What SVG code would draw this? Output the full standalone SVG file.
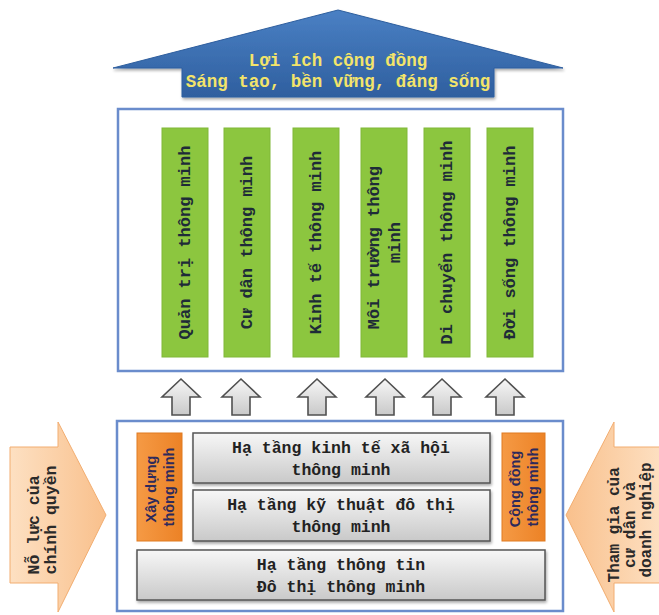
<svg xmlns="http://www.w3.org/2000/svg" width="659" height="615" viewBox="0 0 659 615">
  <defs>
    <linearGradient id="gBlue" x1="0" y1="0" x2="0" y2="1">
      <stop offset="0" stop-color="#4a80c4"/>
      <stop offset="1" stop-color="#2f5f9f"/>
    </linearGradient>
    <linearGradient id="gGray" x1="0" y1="0" x2="0" y2="1">
      <stop offset="0" stop-color="#f7f7f7"/>
      <stop offset="1" stop-color="#c9c9c9"/>
    </linearGradient>
    <linearGradient id="gOrange" x1="0" y1="0" x2="1" y2="0">
      <stop offset="0" stop-color="#f59a45"/>
      <stop offset="1" stop-color="#ec8226"/>
    </linearGradient>
    <linearGradient id="gPeachL" x1="0" y1="0" x2="1" y2="0">
      <stop offset="0" stop-color="#fde0c2"/>
      <stop offset="1" stop-color="#f9c08c"/>
    </linearGradient>
    <linearGradient id="gPeachR" x1="1" y1="0" x2="0" y2="0">
      <stop offset="0" stop-color="#fde0c2"/>
      <stop offset="1" stop-color="#f9c08c"/>
    </linearGradient>
    <filter id="shadow" x="-10%" y="-10%" width="130%" height="130%">
      <feGaussianBlur in="SourceAlpha" stdDeviation="1.5"/>
      <feOffset dx="1" dy="2" result="b"/>
      <feComponentTransfer><feFuncA type="linear" slope="0.35"/></feComponentTransfer>
      <feMerge><feMergeNode/><feMergeNode in="SourceGraphic"/></feMerge>
    </filter>
  </defs>
  <style>
    .mono { font-family: "Liberation Mono", "Courier New", monospace; font-weight: bold; }
    .sans { font-family: "Liberation Sans", Arial, sans-serif; font-weight: bold; }
    .frame { fill: #ffffff; stroke: #6a8ccc; stroke-width: 2.5; }
    .col { fill: #8cc63f; stroke: #80b838; stroke-width: 1; }
    .colText { font-size: 17px; fill: #1e2b38; text-anchor: middle; }
    .grayBox { fill: url(#gGray); stroke: #555555; stroke-width: 1.5; }
    .grayText { font-size: 16.5px; fill: #222222; text-anchor: middle; }
    .orange { fill: url(#gOrange); stroke: #e07a20; stroke-width: 1; }
    .orangeText { font-size: 14.5px; fill: #2e2a5c; text-anchor: middle; }
    .upArrow { fill: url(#gGray); stroke: #505050; stroke-width: 1.6; stroke-linejoin: miter; }
    .sideText { font-size: 16.5px; fill: #2a2a2a; text-anchor: middle; }
    .roofText { font-size: 17.5px; fill: #f3e46a; text-anchor: middle; }
  </style>

  <!-- roof arrow: community benefit -->
  <g id="roof">
    <polygon points="338,10 563,68 494,68 494,97 182,97 182,68 113,68" fill="url(#gBlue)" stroke="#2f5f9f" stroke-width="1" filter="url(#shadow)"/>
    <text class="mono roofText" x="338" y="66">Lợi ích cộng đồng</text>
    <text class="mono roofText" x="338" y="87">Sáng tạo, bền vững, đáng sống</text>
  </g>

  <!-- upper frame with six smart domains -->
  <g id="domains">
    <rect class="frame" x="118" y="109" width="445" height="262"/>
  </g>
  <g id="col-quan-tri">
    <rect class="col" x="162" y="128" width="46" height="229"/>
    <text class="mono colText" transform="translate(185,242.5) rotate(-90)" x="0" y="5">Quản trị thông minh</text>
  </g>
  <g id="col-cu-dan">
    <rect class="col" x="224" y="128" width="46" height="229"/>
    <text class="mono colText" transform="translate(247,242.5) rotate(-90)" x="0" y="5">Cư dân thông minh</text>
  </g>
  <g id="col-kinh-te">
    <rect class="col" x="293" y="128" width="46" height="229"/>
    <text class="mono colText" transform="translate(316,242.5) rotate(-90)" x="0" y="5">Kinh tế thông minh</text>
  </g>
  <g id="col-moi-truong">
    <rect class="col" x="361" y="128" width="46" height="229"/>
    <text class="mono colText" transform="translate(384,242.5) rotate(-90)">
      <tspan x="0" y="-5">Môi trường thông</tspan>
      <tspan x="0" y="16">minh</tspan>
    </text>
  </g>
  <g id="col-di-chuyen">
    <rect class="col" x="424" y="128" width="46" height="229"/>
    <text class="mono colText" transform="translate(447,242.5) rotate(-90)" x="0" y="5">Di chuyển thông minh</text>
  </g>
  <g id="col-doi-song">
    <rect class="col" x="487" y="128" width="46" height="229"/>
    <text class="mono colText" transform="translate(510,242.5) rotate(-90)" x="0" y="5">Đời sống thông minh</text>
  </g>

  <!-- connectors: block arrows from the foundation up to the domains -->
  <g id="connectors">
    <polygon class="upArrow" points="181,379 200,397 190,397 190,415 172,415 172,397 162,397"/>
    <polygon class="upArrow" points="241,379 260,397 250,397 250,415 232,415 232,397 222,397"/>
    <polygon class="upArrow" points="317,379 336,397 326,397 326,415 308,415 308,397 298,397"/>
    <polygon class="upArrow" points="385,379 404,397 394,397 394,415 376,415 376,397 366,397"/>
    <polygon class="upArrow" points="442,379 461,397 451,397 451,415 433,415 433,397 423,397"/>
    <polygon class="upArrow" points="505,379 524,397 514,397 514,415 496,415 496,397 486,397"/>
  </g>

  <!-- lower frame: foundation layers -->
  <g id="foundation">
    <rect class="frame" x="117" y="421" width="446" height="190"/>
  </g>
  <g id="xay-dung">
    <rect class="orange" x="137" y="433" width="45" height="108"/>
    <text class="sans orangeText" transform="translate(160,487) rotate(-90)">
      <tspan x="0" y="-4">Xây dựng</tspan>
      <tspan x="0" y="14">thông minh</tspan>
    </text>
  </g>
  <g id="ha-tang-kt-xh">
    <rect class="grayBox" x="193" y="433" width="297" height="50" filter="url(#shadow)"/>
    <text class="mono grayText" x="341" y="453">Hạ tầng kinh tế xã hội</text>
    <text class="mono grayText" x="341" y="475">thông minh</text>
  </g>
  <g id="ha-tang-ky-thuat">
    <rect class="grayBox" x="193" y="490" width="297" height="51" filter="url(#shadow)"/>
    <text class="mono grayText" x="341" y="510">Hạ tầng kỹ thuật đô thị</text>
    <text class="mono grayText" x="341" y="532">thông minh</text>
  </g>
  <g id="cong-dong">
    <rect class="orange" x="502" y="433" width="43" height="108"/>
    <text class="sans orangeText" transform="translate(524,487) rotate(-90)">
      <tspan x="0" y="-4">Cộng đồng</tspan>
      <tspan x="0" y="14">thông minh</tspan>
    </text>
  </g>
  <g id="ha-tang-thong-tin">
    <rect class="grayBox" x="137" y="550" width="408" height="50" filter="url(#shadow)"/>
    <text class="mono grayText" x="341" y="570">Hạ tầng thông tin</text>
    <text class="mono grayText" x="341" y="592">Đô thị thông minh</text>
  </g>

  <!-- side push arrows -->
  <g id="chinh-quyen">
    <polygon points="10,447 58,447 58,422 106,515 58,612 58,583 10,583" fill="url(#gPeachL)" stroke="#f2ad70" stroke-width="1"/>
    <text class="mono sideText" transform="translate(42,520) rotate(-90)">
      <tspan x="0" y="-3">Nỗ lực của</tspan>
      <tspan x="0" y="14">chính quyền</tspan>
    </text>
  </g>
  <g id="cu-dan-doanh-nghiep">
    <polygon points="566,515 614,422 614,447 662,447 662,583 614,583 614,612" fill="url(#gPeachR)" stroke="#f2ad70" stroke-width="1"/>
    <text class="mono sideText" style="font-size:16px" transform="translate(630,520) rotate(-90)">
      <tspan x="0" y="-11">Tham gia của</tspan>
      <tspan x="0" y="5">cư dân và</tspan>
      <tspan x="0" y="21">doanh nghiệp</tspan>
    </text>
  </g>
</svg>
